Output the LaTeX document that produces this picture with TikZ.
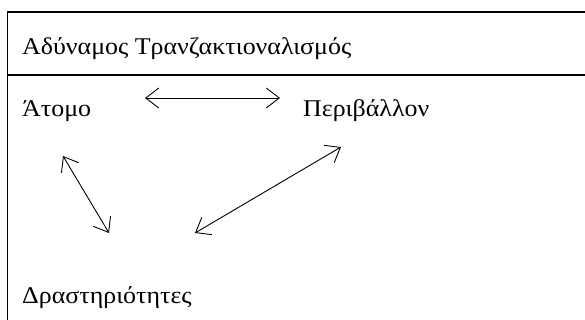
\documentclass[tikz,border=0pt]{standalone}
\usepackage{fontspec}
\setmainfont{Liberation Serif}[FakeStretch=1.08]
\usetikzlibrary{arrows.meta}
\tikzset{
  txt/.style={anchor=base west, inner sep=0pt, font=\fontsize{24}{28}\selectfont},
  rule/.style={line width=2pt},
  link/.style={line width=0.9pt, {Straight Barb[length=13pt,width=20pt]}-{Straight Barb[length=13pt,width=20pt]}}
}
\begin{document}
\begin{tikzpicture}[x=1pt,y=-1pt]
  \useasboundingbox (0,0) rectangle (585,320);
  % frame: left edge, top rule, header separator
  \draw[line width=1.5pt] (7.5,11) -- (7.5,320);
  \draw[rule] (7,12) -- (585,12);
  \draw[rule] (7,75) -- (585,75);
  % header
  \node[txt] (title) at (22,55) {Αδύναμος Τρανζακτιοναλισμός};
  % concepts
  \node[txt] (person) at (22,117) {Άτομο};
  \node[txt] (env) at (303,117) {Περιβάλλον};
  \node[txt] (act) at (22,303) {Δραστηριότητες};
  % arrow end points
  \coordinate (h1) at (145,98);
  \coordinate (h2) at (280,98);
  \coordinate (l1) at (63,156);
  \coordinate (l2) at (109,233);
  \coordinate (r1) at (195,233);
  \coordinate (r2) at (341,147);
  \draw[link] (h1) -- (h2);
  \draw[link] (l1) -- (l2);
  \draw[link] (r1) -- (r2);
\end{tikzpicture}
\end{document}
